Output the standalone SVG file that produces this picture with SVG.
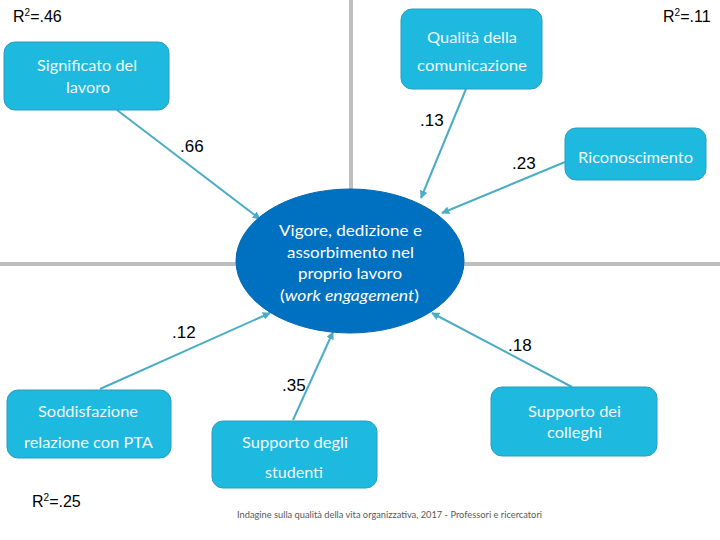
<svg xmlns="http://www.w3.org/2000/svg" width="720" height="540" viewBox="0 0 720 540">
<style>
.box{fill:#1EB9DE;stroke:#2C9CC0;stroke-width:1}
.bt{font-family:Lato,"Open Sans","Liberation Sans",sans-serif;font-size:15.5px;fill:#F0F8FC;text-anchor:middle}
.et{font-family:Lato,"Open Sans","Liberation Sans",sans-serif;font-size:16px;fill:#FFFFFF;text-anchor:middle}
.num{font-family:"Liberation Sans",Arial,sans-serif;font-size:17px;fill:#000}
.r2{font-family:"Liberation Sans",Arial,sans-serif;font-size:16px;fill:#000}
.sup{font-size:10px}
.con{stroke:#4BACC6;stroke-width:2;fill:none;marker-end:url(#arr)}
.grid{stroke:#BFBFBF;stroke-width:4;fill:none}
</style>
<defs>
<marker id="arr" viewBox="0 0 10 10" refX="9" refY="5" markerWidth="4" markerHeight="4" orient="auto" markerUnits="strokeWidth">
<path d="M0,0 L10,5 L0,10 z" fill="#4BACC6"/>
</marker>
</defs>
<rect width="720" height="540" fill="#FFFFFF"/>
<g id="grid">
<line class="grid" x1="351" y1="0" x2="351" y2="262"/>
<line class="grid" x1="0" y1="264" x2="720" y2="264"/>
</g>
<g id="connectors">
<line class="con" x1="117" y1="110" x2="260" y2="219"/>
<line class="con" x1="466" y1="89" x2="421" y2="198"/>
<line class="con" x1="565" y1="162" x2="442" y2="213"/>
<line class="con" x1="100" y1="389" x2="270" y2="313"/>
<line class="con" x1="293" y1="420" x2="333" y2="332"/>
<line class="con" x1="572" y1="387" x2="432" y2="313"/>
</g>
<g id="engagement">
<ellipse cx="350" cy="261" rx="114" ry="72" fill="#0070C0" stroke="#0066B0" stroke-width="1"/>
<text class="et" x="350.5" y="236" textLength="143" lengthAdjust="spacingAndGlyphs">Vigore, dedizione e</text>
<text class="et" x="350.5" y="258" textLength="127" lengthAdjust="spacingAndGlyphs">assorbimento nel</text>
<text class="et" x="350" y="279" textLength="104" lengthAdjust="spacingAndGlyphs">proprio lavoro</text>
<text class="et" x="349.5" y="301" textLength="139" lengthAdjust="spacingAndGlyphs">(<tspan font-style="italic">work engagement</tspan>)</text>
</g>
<g id="significato">
<rect class="box" x="4" y="42" width="165" height="68" rx="11"/>
<text class="bt" x="87" y="71" textLength="100" lengthAdjust="spacingAndGlyphs">Significato del</text>
<text class="bt" x="88" y="93" textLength="44" lengthAdjust="spacingAndGlyphs">lavoro</text>
</g>
<g id="qualita">
<rect class="box" x="401" y="9" width="141" height="80" rx="11"/>
<text class="bt" x="472" y="43" textLength="90" lengthAdjust="spacingAndGlyphs">Qualità della</text>
<text class="bt" x="472" y="71" textLength="110" lengthAdjust="spacingAndGlyphs">comunicazione</text>
</g>
<g id="riconoscimento">
<rect class="box" x="565" y="128" width="141" height="52" rx="11"/>
<text class="bt" x="635.5" y="163" textLength="115" lengthAdjust="spacingAndGlyphs">Riconoscimento</text>
</g>
<g id="soddisfazione">
<rect class="box" x="7" y="390" width="164" height="68" rx="11"/>
<text class="bt" x="88" y="417" textLength="100" lengthAdjust="spacingAndGlyphs">Soddisfazione</text>
<text class="bt" x="88.5" y="448" textLength="129" lengthAdjust="spacingAndGlyphs">relazione con PTA</text>
</g>
<g id="studenti">
<rect class="box" x="212" y="421" width="165" height="67" rx="11"/>
<text class="bt" x="295" y="448" textLength="106" lengthAdjust="spacingAndGlyphs">Supporto degli</text>
<text class="bt" x="294" y="478" textLength="58" lengthAdjust="spacingAndGlyphs">studenti</text>
</g>
<g id="colleghi">
<rect class="box" x="491" y="387" width="166" height="69" rx="11"/>
<text class="bt" x="574.5" y="417" textLength="93" lengthAdjust="spacingAndGlyphs">Supporto dei</text>
<text class="bt" x="574.5" y="438" textLength="55" lengthAdjust="spacingAndGlyphs">colleghi</text>
</g>
<g id="labels">
<text class="num" x="180" y="152">.66</text>
<text class="num" x="420" y="126">.13</text>
<text class="num" x="512" y="169">.23</text>
<text class="num" x="172" y="338">.12</text>
<text class="num" x="282" y="391">.35</text>
<text class="num" x="508" y="351">.18</text>
<text class="r2" x="13" y="22">R<tspan class="sup" dy="-6">2</tspan><tspan dy="6">=.46</tspan></text>
<text class="r2" x="663" y="22">R<tspan class="sup" dy="-6">2</tspan><tspan dy="6">=.11</tspan></text>
<text class="r2" x="32" y="507">R<tspan class="sup" dy="-6">2</tspan><tspan dy="6">=.25</tspan></text>
<text x="389.5" y="518" font-family="Lato,'Open Sans','Liberation Sans',sans-serif" font-size="9.5" fill="#595959" text-anchor="middle" textLength="305" lengthAdjust="spacingAndGlyphs">Indagine sulla qualità della vita organizzativa, 2017 - Professori e ricercatori</text>
</g>
</svg>
